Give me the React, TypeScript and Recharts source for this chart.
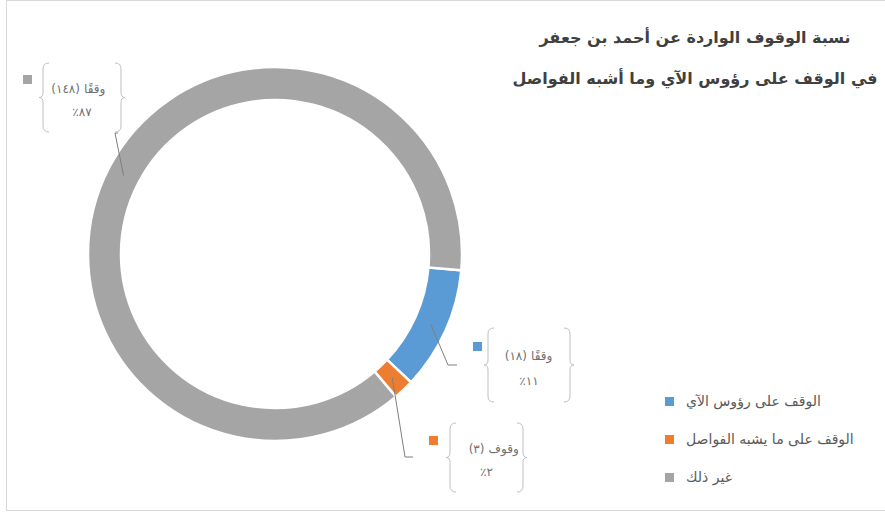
import { PieChart, Pie, Cell, Legend } from 'recharts';

// slices (Excel order, clockwise from the right)
const categories = ['الوقف على رؤوس الآي', 'الوقف على ما يشبه الفواصل', 'غير ذلك'];
const counts = [18, 3, 148];
const countLabels = ['(١٨)', '(٣)', '(١٤٨)'];
const countWords = ['وقفًا', 'وقوف', 'وقفًا'];
const percentLabels = ['٪١١', '٪٢', '٪٨٧'];
const colors = ['#5b9bd5', '#ed7d31', '#a5a5a5'];

const titleLines = ['نسبة الوقوف الواردة عن أحمد بن جعفر', 'في الوقف على رؤوس الآي وما أشبه الفواصل'];

const data = categories.map((name, i) => ({ name, value: counts[i] }));

// where Excel dropped each data label box
const labelLayout = [
  { x: 488, y: 328, w: 82, h: 74, path: [[448, 365], [457, 365]], marker: [473, 342] },
  { x: 450, y: 423, w: 73, h: 69, path: [[405, 457], [413, 457]], marker: [429, 436] },
  { x: 43, y: 63, w: 78, h: 69, path: [[115, 133], [118, 133]], marker: [23, 75] },
];

const RADIAN = Math.PI / 180;
const FONT = '"DejaVu Sans", sans-serif';
const LABEL_COLOR = '#6f6f6f';

const brace = (x: number, top: number, bottom: number, dir: 1 | -1) => {
  // dir 1 = "{" opening, -1 = "}" closing
  const mid = (top + bottom) / 2;
  const c = 6 * dir;
  return `M${x + c},${top} Q${x},${top} ${x},${top + 6} L${x},${mid - 5} Q${x},${mid} ${x - 4 * dir},${mid} Q${x},${mid} ${x},${mid + 5} L${x},${bottom - 6} Q${x},${bottom} ${x + c},${bottom}`;
};

const renderLabel = (props: any) => {
  const { cx, cy, midAngle, innerRadius, outerRadius, index } = props;
  const r = (innerRadius + outerRadius) / 2;
  const ax = cx + r * Math.cos(-midAngle * RADIAN);
  const ay = cy + r * Math.sin(-midAngle * RADIAN);
  const box = labelLayout[index];
  const pts = [[ax, ay], ...box.path].map((p) => p.join(',')).join(' ');
  const tx = box.x + box.w / 2;
  const y1 = box.y + box.h * 0.38;
  return (
    <g key={`lbl-${index}`}>
      <polyline points={pts} fill="none" stroke="#7f7f7f" strokeWidth={1} />
      <path d={brace(box.x, box.y, box.y + box.h, 1)} fill="none" stroke="#bfbfbf" strokeWidth={1} />
      <path d={brace(box.x + box.w, box.y, box.y + box.h, -1)} fill="none" stroke="#bfbfbf" strokeWidth={1} />
      <rect x={box.marker[0]} y={box.marker[1]} width={9} height={9} fill={colors[index]} />
      {/* number on the left, word on the right, as the reference reads */}
      <text x={tx - 2} y={y1} textAnchor="end" dominantBaseline="middle"
        fontFamily={FONT} fontSize={12} fill={LABEL_COLOR}>{countLabels[index]}</text>
      <text x={tx + 2} y={y1} textAnchor="start" dominantBaseline="middle"
        fontFamily={FONT} fontSize={12} fill={LABEL_COLOR}>{countWords[index]}</text>
      <text x={tx} y={box.y + box.h * 0.72} textAnchor="middle" dominantBaseline="middle"
        fontFamily={FONT} fontSize={12} fill={LABEL_COLOR}>{percentLabels[index]}</text>
    </g>
  );
};

const LegendContent = () => (
  <div style={{ fontFamily: FONT }}>
    {categories.map((c, i) => (
      <div key={c} style={{ display: 'flex', alignItems: 'center', height: 38 }}>
        <span style={{ width: 9, height: 9, background: colors[i], display: 'inline-block', marginRight: 12 }} />
        <span style={{ fontSize: 14, color: '#595959' }}>{c}</span>
      </div>
    ))}
  </div>
);

export default function App() {
  return (
    <div style={{ position: 'relative', width: 885, height: 514, background: '#fff' }}>
      <style>{'body{margin:0}'}</style>
      <div style={{ position: 'absolute', left: 6, top: 0, width: 885, height: 511, border: '1px solid #d9d9d9', boxSizing: 'border-box' }} />
      <div style={{ position: 'absolute', left: 445, top: 17, width: 500, textAlign: 'center', direction: 'rtl', whiteSpace: 'nowrap',
        fontFamily: FONT, fontWeight: 'bold', fontSize: 16, lineHeight: '41px', color: '#404040' }}>
        {titleLines.map((t) => <div key={t}>{t}</div>)}
      </div>
      <PieChart width={885} height={514} margin={{ top: 0, right: 0, bottom: 0, left: 0 }}>
        <Pie
          data={data}
          dataKey="value"
          cx={275}
          cy={254}
          innerRadius={154}
          outerRadius={187}
          startAngle={-5}
          endAngle={-365}
          stroke="#fff"
          strokeWidth={2.5}
          label={renderLabel}
          labelLine={false}
          isAnimationActive={false}
        >
          {data.map((d, i) => <Cell key={d.name} fill={colors[i]} />)}
        </Pie>
        <Legend content={<LegendContent />} wrapperStyle={{ position: 'absolute', left: 665, top: 382, width: 220 }} />
      </PieChart>
    </div>
  );
}
